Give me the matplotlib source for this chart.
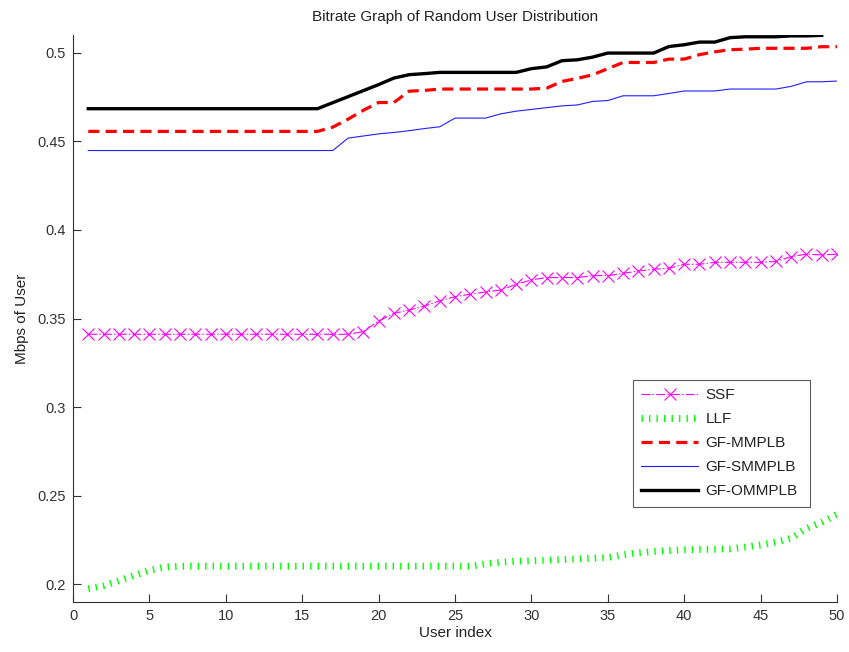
import numpy as np
import matplotlib
matplotlib.use("Agg")
import matplotlib.pyplot as plt

plt.rcParams['font.family'] = ['Liberation Sans', 'DejaVu Sans']
plt.rcParams['lines.scale_dashes'] = False

users = list(range(1, 51))

ssf = [0.3411] * 18 + [0.3426, 0.3486, 0.3529, 0.3548, 0.3570, 0.3600, 0.3623, 0.3637,
                        0.3650, 0.3661, 0.3693, 0.3718, 0.3731, 0.3731, 0.3731, 0.3742,
                        0.3742, 0.3755, 0.3768, 0.3778, 0.3784, 0.3806, 0.3806, 0.3817,
                        0.3817, 0.3817, 0.3817, 0.3822, 0.3849, 0.3863, 0.3859, 0.3863]

llf = [0.1975, 0.1992, 0.2020, 0.2050, 0.2078, 0.2097] + [0.2102] * 20 + \
      [0.2115, 0.2125, 0.2130, 0.2133, 0.2136, 0.2139, 0.2143, 0.2147, 0.2151,
       0.2166, 0.2178, 0.2185, 0.2190, 0.2195, 0.2197, 0.2198, 0.2200, 0.2210,
       0.2222, 0.2238, 0.2260, 0.2315, 0.2350, 0.2395]

gf_mmplb = [0.4556] * 16 + [0.4580, 0.4625, 0.4675, 0.4719, 0.4719, 0.4783, 0.4787] + \
           [0.4795] * 7 + [0.4800, 0.4838, 0.4855, 0.4875, 0.4910, 0.4945, 0.4945,
                           0.4945, 0.4964, 0.4964, 0.4989, 0.5005, 0.5017, 0.5020,
                           0.5025, 0.5025, 0.5025, 0.5025, 0.5034, 0.5034]

gf_smmplb = [0.4448] * 17 + [0.4518, 0.4530, 0.4542, 0.4550, 0.4560, 0.4572, 0.4582,
                              0.4631, 0.4631, 0.4631, 0.4655, 0.4670, 0.4680, 0.4690,
                              0.4700, 0.4705, 0.4725, 0.4730, 0.4757, 0.4757, 0.4757,
                              0.4770, 0.4784, 0.4784, 0.4784, 0.4795, 0.4795, 0.4795,
                              0.4795, 0.4810, 0.4836, 0.4836, 0.4840]

gf_ommplb = [0.4684] * 16 + [0.4718, 0.4752, 0.4786, 0.4820, 0.4857, 0.4876, 0.4882] + \
            [0.4889] * 6 + [0.4910, 0.4920, 0.4955, 0.4960, 0.4975, 0.4998, 0.4998,
                            0.4998, 0.4998, 0.5035, 0.5045, 0.5060, 0.5060, 0.5085,
                            0.5090, 0.5090, 0.5090, 0.5095, 0.5095, 0.5098]

labels = ['SSF', 'LLF', 'GF-MMPLB', 'GF-SMMPLB', 'GF-OMMPLB']
x_ticks = [0, 5, 10, 15, 20, 25, 30, 35, 40, 45, 50]
y_ticks = [0.2, 0.25, 0.3, 0.35, 0.4, 0.45, 0.5]
y_ticklabels = ['0.2', '0.25', '0.3', '0.35', '0.4', '0.45', '0.5']

fig = plt.figure(figsize=(8.49, 6.52), dpi=100)
ax = fig.add_axes([73 / 849, 1 - 602 / 652, (837 - 73) / 849, (602 - 35) / 652])

ax.plot(users, ssf, color='#ff00ff', linestyle='-.', linewidth=0.8, marker='x',
        markersize=8, markeredgewidth=0.8, label=labels[0])
ax.plot(users, llf, color='#00ff00', linewidth=5, dashes=(1.0, 4.4),
        solid_capstyle='butt', dash_capstyle='butt', label=labels[1])
ax.plot(users, gf_mmplb, color='#ff0000', linewidth=2.3, dashes=(8.0, 4.5),
        dash_capstyle='butt', label=labels[2])
ax.plot(users, gf_smmplb, color='#2020ff', linewidth=0.8, label=labels[3])
ax.plot(users[:len(gf_ommplb)], gf_ommplb, color='#000000', linewidth=2.4, label=labels[4])

ax.set_xlim(0, 50)
ax.set_ylim(0.19, 0.51)
ax.set_xticks(x_ticks)
ax.set_yticks(y_ticks)
ax.set_yticklabels(y_ticklabels)
ax.tick_params(direction='in', length=6, width=0.8, labelsize=10.5, colors='#333333',
               pad=5)
for s in ['top', 'right']:
    ax.spines[s].set_visible(False)
for s in ['left', 'bottom']:
    ax.spines[s].set_color('#333333')
    ax.spines[s].set_linewidth(0.8)

ax.set_title('Bitrate Graph of Random User Distribution', fontsize=11, color='#222222', pad=10)
ax.set_xlabel('User index', fontsize=11, color='#222222', labelpad=2)
ax.set_ylabel('Mbps of User', fontsize=11, color='#222222', labelpad=6)

leg = ax.legend(loc='lower left', bbox_to_anchor=(0.733, 0.168, 0.232, 0.223), mode='expand',
                fontsize=11, frameon=True, fancybox=False, edgecolor='#333333',
                handlelength=3.7, handletextpad=0.5, borderpad=0.55, labelspacing=0.66,
                borderaxespad=0, numpoints=1)
leg.get_frame().set_linewidth(0.8)
for t in leg.get_texts():
    t.set_color('#222222')

fig.savefig('out.png', dpi=100)
